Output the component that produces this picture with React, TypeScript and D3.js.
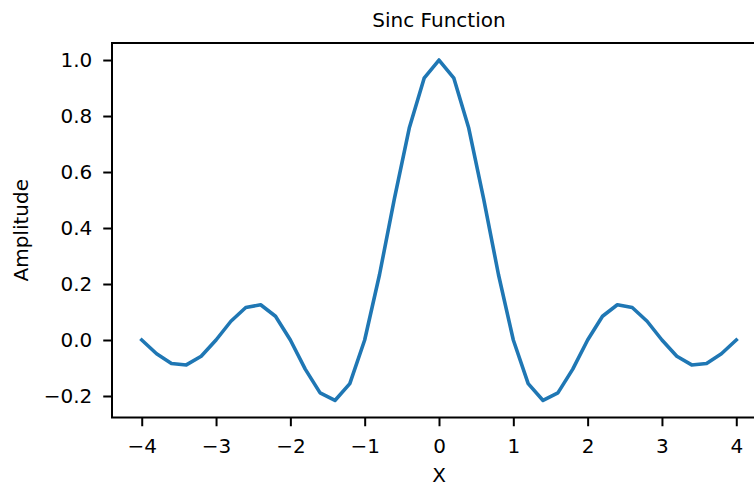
import { useRef, useEffect } from "react";
import * as d3 from "d3";

const xValues = [
  -4, -3.8, -3.6, -3.4, -3.2, -3, -2.8, -2.6, -2.4, -2.2, -2, -1.8, -1.6, -1.4,
  -1.2, -1, -0.8, -0.6, -0.4, -0.2, 0, 0.2, 0.4, 0.6, 0.8, 1, 1.2, 1.4, 1.6,
  1.8, 2, 2.2, 2.4, 2.6, 2.8, 3, 3.2, 3.4, 3.6, 3.8, 4,
];
const yValues = [
  0, -0.049, -0.084, -0.089, -0.058, 0, 0.067, 0.116, 0.126, 0.085, 0, -0.104,
  -0.189, -0.216, -0.156, 0, 0.234, 0.505, 0.757, 0.935, 1, 0.935, 0.757,
  0.505, 0.234, 0, -0.156, -0.216, -0.189, -0.104, 0, 0.085, 0.126, 0.116,
  0.067, 0, -0.058, -0.089, -0.084, -0.049, 0,
];
const xTicks = [-4, -3, -2, -1, 0, 1, 2, 3, 4];
const yTicks = [-0.2, 0, 0.2, 0.4, 0.6, 0.8, 1.0];

const minus = (s: string) => s.replace("-", "\u2212");

export default function App() {
  const svgRef = useRef<SVGSVGElement>(null);

  useEffect(() => {
    if (!svgRef.current) return;
    const svg = d3.select(svgRef.current);
    svg.selectAll("*").remove();

    const width = 754;
    const height = 487;
    const left = 112;
    const right = 766;
    const top = 43;
    const bottom = 417.5;
    const font = "DejaVu Sans";
    const fontSize = 20;

    const xMin = d3.min(xValues)!;
    const xMax = d3.max(xValues)!;
    const yMin = d3.min(yValues)!;
    const yMax = d3.max(yValues)!;
    const xPad = (xMax - xMin) * 0.05;
    const yPad = (yMax - yMin) * 0.05;

    const x = d3.scaleLinear().domain([xMin - xPad, xMax + xPad]).range([left, right]);
    const y = d3.scaleLinear().domain([yMin - yPad, yMax + yPad]).range([bottom, top]);

    svg.attr("width", width).attr("height", height);
    svg.append("rect").attr("width", width).attr("height", height).attr("fill", "#fff");

    const data = xValues.map((v, i) => [v, yValues[i]] as [number, number]);
    const line = d3
      .line<[number, number]>()
      .x((d) => x(d[0]))
      .y((d) => y(d[1]));

    svg
      .append("path")
      .datum(data)
      .attr("d", line)
      .attr("fill", "none")
      .attr("stroke", "#1f77b4")
      .attr("stroke-width", 3.6)
      .attr("stroke-linejoin", "round")
      .attr("stroke-linecap", "square");

    // x axis
    const gx = svg.append("g").attr("transform", `translate(0,${bottom})`);
    gx.call(
      d3
        .axisBottom(x)
        .tickValues(xTicks)
        .tickSize(8.75)
        .tickPadding(12.5)
        .tickFormat((d) => minus(d3.format("d")(d as number)))
    );
    gx.select(".domain").remove();
    gx.selectAll(".tick line").attr("stroke", "#000").attr("stroke-width", 2);
    gx.selectAll(".tick text")
      .attr("fill", "#000")
      .attr("font-family", font)
      .attr("font-size", fontSize);

    // y axis
    const gy = svg.append("g").attr("transform", `translate(${left},0)`);
    gy.call(
      d3
        .axisLeft(y)
        .tickValues(yTicks)
        .tickSize(8.75)
        .tickPadding(11)
        .tickFormat((d) => minus(d3.format(".1f")(d as number)))
    );
    gy.select(".domain").remove();
    gy.selectAll(".tick line").attr("stroke", "#000").attr("stroke-width", 2);
    gy.selectAll(".tick text")
      .attr("fill", "#000")
      .attr("font-family", font)
      .attr("font-size", fontSize);

    // spines
    svg
      .append("rect")
      .attr("x", left)
      .attr("y", top)
      .attr("width", right - left)
      .attr("height", bottom - top)
      .attr("fill", "none")
      .attr("stroke", "#000")
      .attr("stroke-width", 2);

    svg
      .append("text")
      .attr("x", (left + right) / 2)
      .attr("y", 27)
      .attr("text-anchor", "middle")
      .attr("font-family", font)
      .attr("font-size", fontSize)
      .text("Sinc Function");

    svg
      .append("text")
      .attr("x", (left + right) / 2)
      .attr("y", 482)
      .attr("text-anchor", "middle")
      .attr("font-family", font)
      .attr("font-size", fontSize)
      .text("X");

    svg
      .append("text")
      .attr("transform", `translate(28,${(top + bottom) / 2}) rotate(-90)`)
      .attr("text-anchor", "middle")
      .attr("font-family", font)
      .attr("font-size", fontSize)
      .text("Amplitude");
  }, []);

  return (
    <svg
      ref={svgRef}
      style={{ position: "absolute", left: 0, top: 0, display: "block" }}
    />
  );
}
